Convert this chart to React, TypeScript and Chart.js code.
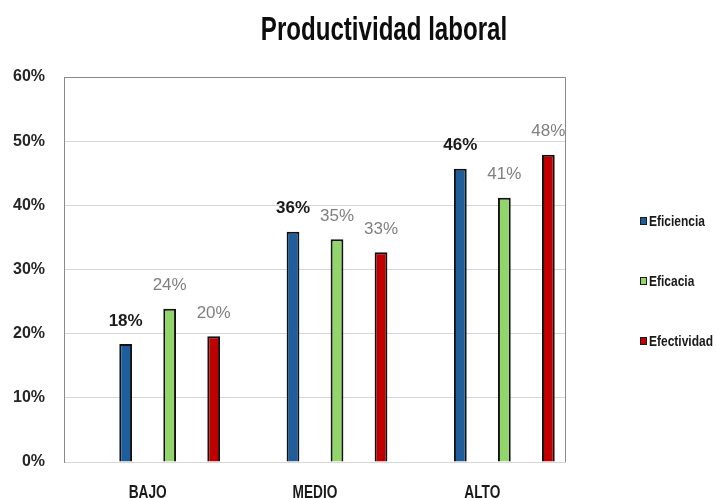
import React, { useEffect, useRef } from 'react';
import { Chart, registerables } from 'chart.js';

Chart.register(...registerables);

const titleText = 'Productividad laboral';
const categories = ['BAJO', 'MEDIO', 'ALTO'];
const seriesNames = ['Eficiencia', 'Eficacia', 'Efectividad'];
const eficiencia = [18.4, 35.9, 45.7];
const eficacia = [23.9, 34.7, 41.2];
const efectividad = [19.6, 32.7, 47.9];
const emptySlot: (number | null)[] = [null, null, null];
const yMax = 60;
const yStep = 10;
const seriesColors = ['#1F5E9C', '#92D56B', '#C00000'];

const SANS = '"Liberation Sans", Arial, sans-serif';

function drawNarrow(
  ctx: CanvasRenderingContext2D,
  text: string,
  x: number,
  y: number,
  size: number,
  squeeze: number,
  align: CanvasTextAlign,
  baseline: CanvasTextBaseline,
  color: string
) {
  ctx.save();
  ctx.font = `bold ${size}px ${SANS}`;
  ctx.fillStyle = color;
  ctx.textAlign = align;
  ctx.textBaseline = baseline;
  ctx.translate(x, y);
  ctx.scale(squeeze, 1);
  ctx.fillText(text, 0, 0);
  ctx.restore();
}

const decorPlugin = {
  id: 'decor',
  afterDatasetsDraw(chart: any) {
    const ctx = chart.ctx as CanvasRenderingContext2D;
    const { left, right, top, bottom } = chart.chartArea;
    ctx.save();
    // plot border (left, top, right)
    ctx.strokeStyle = '#8a8a8a';
    ctx.lineWidth = 1;
    ctx.beginPath();
    ctx.moveTo(left + 0.5, bottom);
    ctx.lineTo(left + 0.5, top + 0.5);
    ctx.lineTo(right - 0.5, top + 0.5);
    ctx.lineTo(right - 0.5, bottom);
    ctx.stroke();

    // data labels
    chart.data.datasets.forEach((ds: any, i: number) => {
      if (!ds.label) return;
      const meta = chart.getDatasetMeta(i);
      meta.data.forEach((el: any, j: number) => {
        const v = ds.data[j];
        if (v == null) return;
        const bold = i === 1;
        ctx.font = bold ? `bold 17px ${SANS}` : `17px ${SANS}`;
        ctx.fillStyle = bold ? '#1a1a1a' : '#7f7f7f';
        ctx.textAlign = 'center';
        ctx.textBaseline = 'middle';
        ctx.fillText(Math.round(v) + '%', el.x, el.y - 23);
      });
    });

    // category labels (narrow bold)
    const xs = chart.scales.x;
    categories.forEach((c, idx) => {
      drawNarrow(ctx, c, xs.getPixelForTick(idx), 498, 19, 0.72, 'center', 'alphabetic', '#1a1a1a');
    });

    // title
    drawNarrow(ctx, titleText, 384, 40, 33, 0.73, 'center', 'alphabetic', '#0d0d0d');

    // legend
    const legendX = right + 74;
    const legendYs = [221, 281, 341];
    let k = 0;
    chart.data.datasets.forEach((ds: any) => {
      if (!ds.label) return;
      const cy = legendYs[k++];
      ctx.fillStyle = ds.backgroundColor;
      ctx.fillRect(legendX, cy - 4, 7, 8);
      ctx.strokeStyle = '#1a1a1a';
      ctx.lineWidth = 1;
      ctx.strokeRect(legendX + 0.5, cy - 3.5, 6, 7);
      drawNarrow(ctx, ds.label, legendX + 9, cy + 5, 15, 0.8, 'left', 'alphabetic', '#1a1a1a');
    });
    ctx.restore();
  },
};

export default function App() {
  const ref = useRef<HTMLCanvasElement>(null);
  useEffect(() => {
    if (!ref.current) return;
    const barStyle = (color: string) => ({
      backgroundColor: color,
      borderColor: '#111111',
      borderWidth: 2,
      categoryPercentage: 1.052,
      barPercentage: 0.29,
    });
    const chart = new Chart(ref.current, {
      type: 'bar',
      data: {
        labels: categories,
        datasets: [
          { label: '', data: emptySlot, ...barStyle('#ffffff') },
          { label: seriesNames[0], data: eficiencia, ...barStyle(seriesColors[0]) },
          { label: seriesNames[1], data: eficacia, ...barStyle(seriesColors[1]) },
          { label: seriesNames[2], data: efectividad, ...barStyle(seriesColors[2]) },
        ] as any,
      },
      options: {
        animation: false,
        responsive: false,
        maintainAspectRatio: false,
        layout: { padding: { top: 77, right: 150, left: 0, bottom: 0 } },
        plugins: {
          legend: { display: false },
          title: { display: false },
          tooltip: { enabled: false },
        },
        scales: {
          x: {
            grid: { display: false, drawTicks: false, tickLength: 0 },
            border: { display: false },
            ticks: { display: false },
            afterFit: (s: any) => { s.height = 36; },
          },
          y: {
            min: 0,
            max: yMax,
            ticks: {
              stepSize: yStep,
              padding: 19,
              color: '#262626',
              font: { family: SANS, size: 16, weight: 'bold' },
              callback: (v: any) => v + '%',
            },
            grid: { color: '#d6d6d6', lineWidth: 1, drawTicks: false, tickLength: 0 },
            border: { display: true, color: '#8a8a8a', width: 1 },
            afterFit: (s: any) => { s.width = 64; },
          },
        },
      } as any,
      plugins: [decorPlugin],
    });
    return () => chart.destroy();
  }, []);
  return (
    <div style={{ position: 'fixed', left: 0, top: 0, width: 716, height: 498, background: '#ffffff' }}>
      <canvas ref={ref} width={716} height={498} style={{ width: 716, height: 498 }} />
    </div>
  );
}
